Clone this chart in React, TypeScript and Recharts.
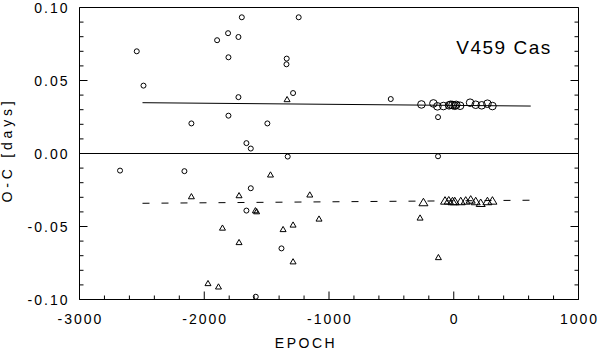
import { ScatterChart, Scatter, XAxis, YAxis, ReferenceLine, Customized } from 'recharts';

// [epoch, O-C days]
const smallCircles = [
  [-2541, 0.070], [-2487, 0.0465], [-2103, 0.0206], [-1897, 0.0776], [-1809, 0.0824],
  [-1726, 0.0798], [-1699, 0.0933], [-1806, 0.0659], [-1726, 0.0386], [-1806, 0.0259],
  [-1662, 0.0071], [-1627, 0.0034], [-1243, 0.0933], [-1339, 0.065], [-1341, 0.0611],
  [-1288, 0.0414], [-505, 0.0373], [-1494, 0.0206], [-1331, -0.0021], [-126, 0.0249],
  [-126, -0.0019], [-2675, -0.0117], [-2159, -0.0121], [-1627, -0.0238], [-1662, -0.0391],
  [-1381, -0.065], [-1587, -0.0981],
];

const smallTriangles = [
  [-1336, 0.037], [-2103, -0.0295], [-1721, -0.0288], [-1590, -0.0391], [-1580, -0.0398],
  [-1854, -0.051], [-1721, -0.0609], [-1970, -0.089], [-1886, -0.0913], [-1469, -0.0146],
  [-1154, -0.0283], [-1080, -0.0448], [-1288, -0.0489], [-1368, -0.052], [-1288, -0.0741],
  [-270, -0.0441], [-123, -0.0712],
];

const bigCircles = [
  [-259, 0.0336], [-163, 0.0343], [-131, 0.0323], [-83, 0.0325], [-38, 0.033],
  [-24, 0.0334], [-10, 0.0332], [8, 0.0327], [20, 0.0333], [51, 0.0327], [131, 0.0348],
  [176, 0.0334], [224, 0.033], [270, 0.0341], [310, 0.0325],
];

const bigTriangles = [
  [-243, -0.0334], [-70, -0.0323], [-40, -0.0322], [-10, -0.0327], [8, -0.0327],
  [56, -0.0327], [96, -0.0323], [136, -0.0316], [176, -0.0327], [216, -0.0339],
  [270, -0.0327], [310, -0.0323],
];

const upperFit = [[-2495, 0.0348], [617, 0.0325]];
const lowerFit = [[-2495, -0.0341], [617, -0.0320]];

const xTicks = [
  -3000, -2800, -2600, -2400, -2200, -2000, -1800, -1600, -1400, -1200, -1000,
  -800, -600, -400, -200, 0, 200, 400, 600, 800, 1000,
];
const xMajorTicks = [-3000, -2000, -1000, 0, 1000];
const yTicks = [
  -0.1, -0.09, -0.08, -0.07, -0.06, -0.05, -0.04, -0.03, -0.02, -0.01, 0,
  0.01, 0.02, 0.03, 0.04, 0.05, 0.06, 0.07, 0.08, 0.09, 0.1,
];
const yMajorTicks = [-0.1, -0.05, 0, 0.05, 0.1];
const yTickLabels = ['-0.10', '-0.05', '0.00', '0.05', '0.10'];

const FONT = '"Liberation Sans", Arial, sans-serif';

const toPoints = (arr: number[][]) => arr.map(([epoch, oc]) => ({ epoch, oc }));

const yMajorIndex = (v: number) => yMajorTicks.findIndex((m) => Math.abs(m - v) < 1e-6);
const xLen = (v: number) => (xMajorTicks.includes(v) ? 8 : 4);
const yLen = (v: number) => (yMajorIndex(v) >= 0 ? 8 : 4);

// tickSize/tickMargin are 0, so x/y are the axis-line coordinates
const XTickBottom = (props: any) => {
  const { x, y, payload } = props;
  return (
    <g>
      <line x1={x} x2={x} y1={y} y2={y - xLen(payload.value)} stroke="#000" strokeWidth={1} />
      {xMajorTicks.includes(payload.value) && (
        <text x={x + 1} y={y + 24} textAnchor="middle" fontSize={14} letterSpacing={2} fontFamily={FONT} fill="#000">
          {payload.value}
        </text>
      )}
    </g>
  );
};

const XTickTop = (props: any) => {
  const { x, y, payload } = props;
  return <line x1={x} x2={x} y1={y} y2={y + xLen(payload.value)} stroke="#000" strokeWidth={1} />;
};

const YTickLeft = (props: any) => {
  const { x, y, payload } = props;
  const idx = yMajorIndex(payload.value);
  return (
    <g>
      <line x1={x} x2={x + yLen(payload.value)} y1={y} y2={y} stroke="#000" strokeWidth={1} />
      {idx >= 0 && (
        <text x={x - 10} y={y + 5} textAnchor="end" fontSize={14} letterSpacing={2} fontFamily={FONT} fill="#000">
          {yTickLabels[idx]}
        </text>
      )}
    </g>
  );
};

const YTickRight = (props: any) => {
  const { x, y, payload } = props;
  return <line x1={x} x2={x - yLen(payload.value)} y1={y} y2={y} stroke="#000" strokeWidth={1} />;
};

const SmallCircle = ({ cx, cy }: any) => <circle cx={cx} cy={cy} r={2.5} fill="none" stroke="#000" strokeWidth={1} />;
const BigCircle = ({ cx, cy }: any) => <circle cx={cx} cy={cy} r={3.8} fill="none" stroke="#000" strokeWidth={1} />;
const SmallTriangle = ({ cx, cy }: any) => (
  <polygon points={`${cx - 3},${cy + 2.2} ${cx + 3},${cy + 2.2} ${cx},${cy - 3}`} fill="none" stroke="#000" strokeWidth={1} />
);
const BigTriangle = ({ cx, cy }: any) => (
  <polygon points={`${cx - 4.5},${cy + 3.5} ${cx + 4.5},${cy + 3.5} ${cx},${cy - 4}`} fill="none" stroke="#000" strokeWidth={1} />
);

const Texts = () => (
  <g fontFamily={FONT} fill="#000">
    <text x={504} y={54} textAnchor="middle" fontSize={19} letterSpacing={1.5}>V459 Cas</text>
    <text x={306} y={348} textAnchor="middle" fontSize={14} letterSpacing={2.5}>EPOCH</text>
    <text x={0} y={0} transform="translate(12,150) rotate(-90)" textAnchor="middle" fontSize={14} letterSpacing={3.8}>
      O-C [days]
    </text>
  </g>
);

export default function App() {
  return (
    <div style={{ position: 'absolute', left: 0, top: 0, background: '#fff' }}>
      <ScatterChart width={599} height={351} margin={{ top: 6.5, right: 19.5, bottom: 0, left: 0 }}>
        <XAxis
          dataKey="epoch"
          type="number"
          domain={[-3000, 1000]}
          ticks={xTicks}
          interval={0}
          allowDataOverflow
          height={51.5}
          tickSize={0}
          tickMargin={0}
          tickLine={false}
          axisLine={{ stroke: '#000' }}
          tick={<XTickBottom />}
        />
        <XAxis
          xAxisId="top"
          orientation="top"
          type="number"
          domain={[-3000, 1000]}
          ticks={xTicks}
          interval={0}
          allowDataOverflow
          height={1}
          tickSize={0}
          tickMargin={0}
          tickLine={false}
          axisLine={{ stroke: '#000' }}
          tick={<XTickTop />}
        />
        <YAxis
          dataKey="oc"
          type="number"
          domain={[-0.1, 0.1]}
          ticks={yTicks}
          interval={0}
          allowDataOverflow
          width={79.5}
          tickSize={0}
          tickMargin={0}
          tickLine={false}
          axisLine={{ stroke: '#000' }}
          tick={<YTickLeft />}
        />
        <YAxis
          yAxisId="right"
          orientation="right"
          type="number"
          domain={[-0.1, 0.1]}
          ticks={yTicks}
          interval={0}
          allowDataOverflow
          width={1}
          tickSize={0}
          tickMargin={0}
          tickLine={false}
          axisLine={{ stroke: '#000' }}
          tick={<YTickRight />}
        />
        <ReferenceLine y={0} stroke="#000" strokeWidth={1} />
        <ReferenceLine
          segment={toPoints(upperFit).map((p) => ({ x: p.epoch, y: p.oc }))}
          stroke="#000"
          strokeWidth={1}
        />
        <ReferenceLine
          segment={toPoints(lowerFit).map((p) => ({ x: p.epoch, y: p.oc }))}
          stroke="#000"
          strokeWidth={1}
          strokeDasharray="7 12"
        />
        <Scatter data={toPoints(smallCircles)} shape={<SmallCircle />} isAnimationActive={false} />
        <Scatter data={toPoints(smallTriangles)} shape={<SmallTriangle />} isAnimationActive={false} />
        <Scatter data={toPoints(bigCircles)} shape={<BigCircle />} isAnimationActive={false} />
        <Scatter data={toPoints(bigTriangles)} shape={<BigTriangle />} isAnimationActive={false} />
        <Customized component={Texts} />
      </ScatterChart>
    </div>
  );
}
